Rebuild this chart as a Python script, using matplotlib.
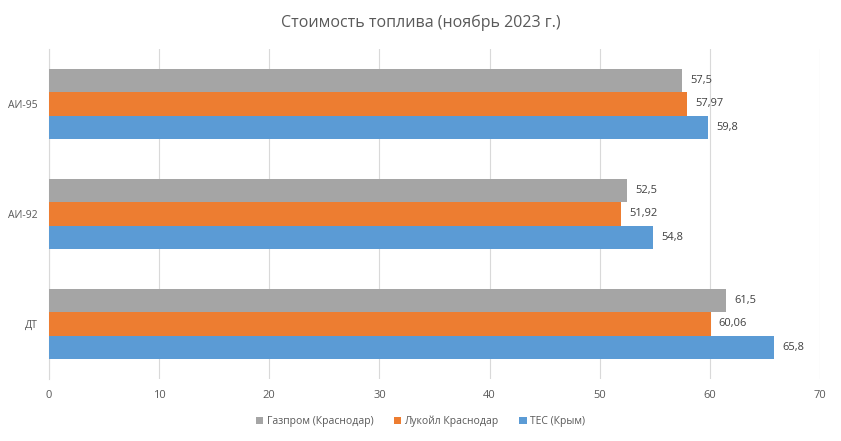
import numpy as np
from matplotlib import pyplot as plt

plt.rcParams['font.family'] = ['Open Sans', 'DejaVu Sans']

categories = ["ДТ", "АИ-92", "АИ-95"]
series_names = ["Газпром (Краснодар)", "Лукойл Краснодар", "ТЕС (Крым)"]
gazprom = [61.5, 52.5, 57.5]
lukoil = [60.06, 51.92, 57.97]
tes = [65.8, 54.8, 59.8]
colors = ["#A5A5A5", "#ED7D31", "#5B9BD5"]

fig = plt.figure(figsize=(8.41, 4.41), dpi=100)
ax = fig.add_axes([0.0583, 0.1406, 0.9167, 0.7484])

y = np.arange(len(categories))
h = 0.21
offsets = [h, 0, -h]
for vals, name, off, col in zip([gazprom, lukoil, tes], series_names, offsets, colors):
    bars = ax.barh(y + off, vals, height=h, color=col, label=name, zorder=3)
    labels = [f"{v:g}".replace(".", ",") for v in vals]
    ax.bar_label(bars, labels=labels, padding=6, fontsize=8, color="#404040")

ax.set_xlim(0, 70)
ax.set_ylim(-0.5, 2.5)
ax.set_xticks(range(0, 71, 10))
ax.set_yticks(y)
ax.set_yticklabels(categories)
ax.tick_params(axis="both", length=0, labelsize=8, colors="#595959")
ax.tick_params(axis="x", pad=8)
ax.tick_params(axis="y", pad=8, labelsize=7.5)
ax.grid(axis="x", color="#D9D9D9", linewidth=0.8, zorder=0)
for s in ["top", "right", "bottom"]:
    ax.spines[s].set_visible(False)
ax.spines["left"].set_color("#D9D9D9")

fig.text(0.5, 0.948, "Стоимость топлива (ноябрь 2023 г.)", ha="center", va="center",
         fontsize=11.5, color="#595959")

handles, lbls = ax.get_legend_handles_labels()
fig.legend(handles, lbls, loc="center", bbox_to_anchor=(0.5, 0.045), ncol=3,
           frameon=False, fontsize=7.5, handlelength=0.7, handleheight=0.7,
           handletextpad=0.3, columnspacing=2.0, labelcolor="#595959")

plt.savefig("out.png", dpi=100)
